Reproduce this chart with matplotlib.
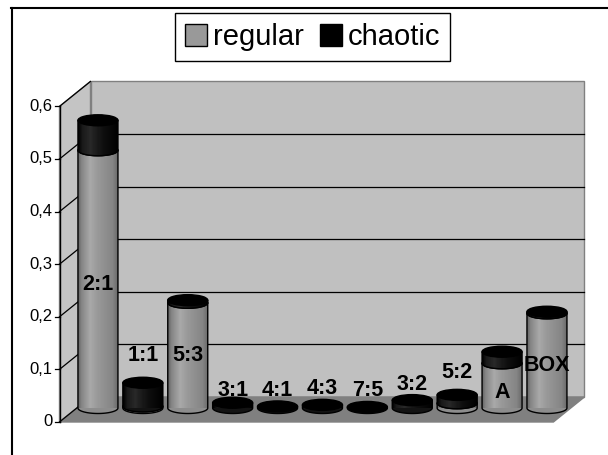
import numpy as np
import matplotlib.pyplot as plt
from matplotlib.patches import Ellipse, PathPatch, Polygon, Patch
from matplotlib.path import Path
from matplotlib.lines import Line2D

plt.rcParams['font.family'] = ['Liberation Sans', 'DejaVu Sans']

labels = ['2:1', '1:1', '5:3', '3:1', '4:1', '4:3', '7:5', '3:2', '5:2', 'A', 'BOX']
regular = [0.49, 0.003, 0.2, 0.0, 0.0, 0.0, 0.0, 0.0, 0.009, 0.085, 0.18]
chaotic = [0.057, 0.045, 0.005, 0.01, 0.003, 0.006, 0.002, 0.015, 0.016, 0.022, 0.003]
# heights where the category names are written
label_y = [0.234, 0.10, 0.10, 0.034, 0.034, 0.038, 0.034, 0.044, 0.067, 0.029, 0.081]
yticks = [0, 0.1, 0.2, 0.3, 0.4, 0.5, 0.6]

fig = plt.figure(figsize=(6.08, 4.55), dpi=100)
ax = fig.add_axes([0.12418, 0.10330, 0.81234, 0.69363])
ax.set_xlim(-0.5, 10.5)
ax.set_ylim(0, 0.6)
ax.axis('off')

# data units per pixel, used for the fake 3d depth
sx = 11 / 493.9
sy = 0.6 / 315.6
front = (-16, -14)
back = (15, 11)


def shift(x, y, d):
    return (x + d[0] * sx, y + d[1] * sy)


x0, x1 = -0.5, 10.5
wall_kw = dict(edgecolor='#808080', lw=1, clip_on=False)
ax.add_patch(Polygon([shift(x0, 0, back), shift(x1, 0, back), shift(x1, 0.6, back),
                      shift(x0, 0.6, back)], facecolor='#c0c0c0', zorder=1, **wall_kw))
ax.add_patch(Polygon([shift(x0, 0, front), shift(x0, 0.6, front), shift(x0, 0.6, back),
                      shift(x0, 0, back)], facecolor='#c4c4c4', zorder=1, **wall_kw))
ax.add_patch(Polygon([shift(x0, 0, front), shift(x1, 0, front), shift(x1, 0, back),
                      shift(x0, 0, back)], facecolor='#808080', zorder=1, **wall_kw))

for v in yticks:
    fx, fy = shift(x0, v, front)
    bx, by = shift(x0, v, back)
    ax.plot([fx, bx], [fy, by], color='black', lw=0.9, zorder=2, clip_on=False)
    if 0 < v < 0.6:
        ex, _ = shift(x1, v, back)
        ax.plot([bx, ex], [by, by], color='black', lw=0.9, zorder=2, clip_on=False)
    ax.plot([fx - 5 * sx, fx], [fy, fy], color='black', lw=0.9, zorder=2, clip_on=False)
    ax.text(fx - 7 * sx, fy, ('%g' % v).replace('.', ','), ha='right', va='center',
            fontsize=12)

fx, fy0 = shift(x0, 0, front)
_, fy1 = shift(x0, 0.6, front)
ax.plot([fx, fx], [fy0, fy1], color='black', lw=1, zorder=2, clip_on=False)

bar_w = 40 * sx
cap_h = 11 * sy

grey_shade = np.interp(np.linspace(0, 1, 40), [0, 0.08, 0.3, 0.55, 0.85, 1],
                       [0.40, 0.52, 0.66, 0.58, 0.52, 0.40])
black_shade = np.interp(np.linspace(0, 1, 40), [0, 0.1, 0.3, 0.6, 1],
                        [0.0, 0.1, 0.16, 0.06, 0.0])


def cylinder(xc, y0, y1, shade, cap_color, z):
    hw = bar_w / 2
    t = np.linspace(np.pi, 2 * np.pi, 40)
    arc = np.column_stack([xc + hw * np.cos(t), y0 + cap_h / 2 * np.sin(t)])
    verts = np.vstack([[xc - hw, y1], arc, [xc + hw, y1], [xc - hw, y1]])
    path = Path(verts, closed=True)
    base = str(float(shade.mean()))
    ax.add_patch(PathPatch(path, facecolor=base, edgecolor='none', zorder=z - 0.1,
                           clip_on=False))
    body = PathPatch(path, facecolor='none', edgecolor='black', lw=1, zorder=z + 0.2,
                     clip_on=False)
    ax.add_patch(body)
    im = ax.imshow(np.repeat(shade[np.newaxis, :], 4, axis=0), cmap='gray', vmin=0,
                   vmax=1, aspect='auto', extent=(xc - hw, xc + hw, y0 - cap_h, y1 + cap_h),
                   zorder=z, interpolation='nearest')
    im.set_clip_path(body)
    ax.add_patch(Ellipse((xc, y1), bar_w, cap_h, facecolor=cap_color, edgecolor='black',
                         lw=1, zorder=z + 0.3, clip_on=False))


for i, (r, c) in enumerate(zip(regular, chaotic)):
    z = 3 + i
    if r > 0:
        cylinder(i, 0, r, grey_shade, '#a0a0a0', z)
    cylinder(i, r, r + c, black_shade, 'black', z + 0.5)
    ax.text(i, label_y[i], labels[i], ha='center', va='center', fontsize=15.5,
            fontweight='bold', zorder=30)

ax.set_xlim(-0.5, 10.5)
ax.set_ylim(0, 0.6)

handles = [Patch(facecolor='#999999', edgecolor='black'),
           Patch(facecolor='black', edgecolor='black')]
leg = fig.legend(handles, ['regular', 'chaotic'], loc='upper center',
                 bbox_to_anchor=(0.514, 0.9714), ncol=2, frameon=True, fancybox=False,
                 edgecolor='black', framealpha=1, fontsize=21, handlelength=0.75,
                 handleheight=0.75, handletextpad=0.2, columnspacing=0.55,
                 borderpad=0.35, borderaxespad=0)
leg.get_frame().set_linewidth(1)

fig.add_artist(Line2D([11 / 608, 1], [1 - 8 / 455] * 2, color='black', lw=1.5,
                      transform=fig.transFigure))
fig.add_artist(Line2D([12 / 608] * 2, [0, 1 - 8 / 455], color='black', lw=1.5,
                      transform=fig.transFigure))

fig.savefig('out.png', dpi=100)
